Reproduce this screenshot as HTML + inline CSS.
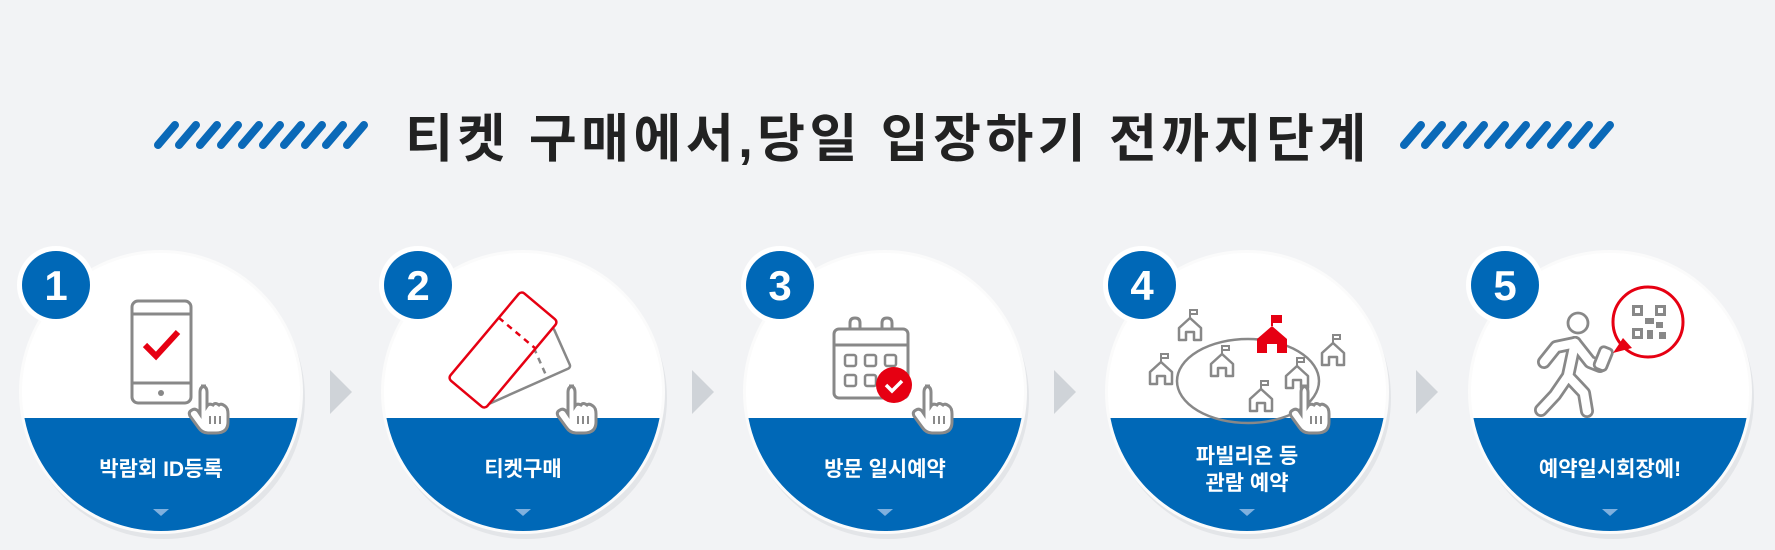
<!DOCTYPE html>
<html><head><meta charset="utf-8"><style>
body{margin:0;background:#f2f3f5;}
svg{display:block}
text{font-family:"Liberation Sans","Noto Sans CJK KR",sans-serif;}
</style></head><body>
<svg width="1775" height="550" viewBox="0 0 1775 550" xmlns="http://www.w3.org/2000/svg">
<defs>
<g id="stripes">
<g stroke="#0a69b8" stroke-width="8" stroke-linecap="round">
<line x1="0" y1="24" x2="17" y2="4"/><line x1="21" y1="24" x2="38" y2="4"/><line x1="42" y1="24" x2="59" y2="4"/><line x1="63" y1="24" x2="80" y2="4"/><line x1="84" y1="24" x2="101" y2="4"/><line x1="105" y1="24" x2="122" y2="4"/><line x1="126" y1="24" x2="143" y2="4"/><line x1="147" y1="24" x2="164" y2="4"/><line x1="168" y1="24" x2="185" y2="4"/><line x1="189" y1="24" x2="206" y2="4"/>
</g></g>
<g id="hand">
<path d="M8 0 q6 0 6 6 v14 q2-3 6-1 q2-3 6 0 q2-2 6 1 q3 2 3 8 v8 q0 11-12 11 h-8 q-6 0-10-6 l-8-11 q-2-4 2-6 q3-2 6 1 l2 3 v-22 q0-6 6-6z" fill="#fff" stroke="#8a8a8a" stroke-width="3"/>
<g stroke="#8a8a8a" stroke-width="2"><line x1="17" y1="30" x2="17" y2="38"/><line x1="22" y1="30" x2="22" y2="38"/><line x1="27" y1="30" x2="27" y2="38"/></g>
</g>
<g id="house">
<path d="M0 22 v-12 l11-10 l11 10 v12 h-7 v-8 h-8 v8z" fill="none" stroke="#888" stroke-width="2.5" stroke-linejoin="round"/>
<path d="M11 0 v-8 h7 v4 h-7" fill="none" stroke="#888" stroke-width="2"/>
</g>
<clipPath id="cc"><circle cx="0" cy="0" r="139"/></clipPath>
<g id="circ">
<circle cx="3" cy="6" r="141" fill="#e3e5e8"/>
<circle cx="0" cy="0" r="142" fill="#fbfbfb"/>
<g clip-path="url(#cc)"><rect x="-150" y="-150" width="300" height="300" fill="#fff"/><rect x="-150" y="26" width="300" height="130" fill="#0068b7"/></g>
<path d="M-8 117 h16 l-8 7z" fill="#7fb0de"/>
</g>
<g id="badge"><circle r="39" fill="#fff"/><circle r="34" fill="#0068b7"/></g>
<path id="arr" d="M0 0 l22 22 l-22 22z" fill="#cfd3d8"/>
</defs>

<use href="#stripes" x="158" y="121"/>
<use href="#stripes" x="1404" y="121"/>
<text x="888" y="157" text-anchor="middle" font-size="52" font-weight="bold" letter-spacing="4.5" fill="#222">티켓 구매에서,당일 입장하기 전까지단계</text>

<use href="#arr" x="330" y="370"/><use href="#arr" x="692" y="370"/><use href="#arr" x="1054" y="370"/><use href="#arr" x="1416" y="370"/>

<!-- 1 -->
<use href="#circ" x="161" y="392"/>
<rect x="132" y="301" width="59" height="102" rx="6" fill="none" stroke="#888" stroke-width="3"/>
<line x1="132" y1="314" x2="191" y2="314" stroke="#888" stroke-width="3"/>
<line x1="132" y1="383" x2="191" y2="383" stroke="#888" stroke-width="3"/>
<circle cx="161" cy="393" r="3" fill="#888"/>
<path d="M145 345 l11 11 l22-24" fill="none" stroke="#e60012" stroke-width="6"/>
<use href="#hand" x="193" y="386"/>
<use href="#badge" x="56" y="285"/>
<text x="56" y="300" text-anchor="middle" font-size="42" font-weight="bold" fill="#fff">1</text>
<text x="161" y="476" text-anchor="middle" font-size="21" font-weight="bold" fill="#fff">박람회 ID등록</text>

<!-- 2 -->
<use href="#circ" x="523" y="392"/>
<g transform="translate(520,366) rotate(-24)"><rect x="-46" y="-22" width="92" height="44" rx="3" fill="#fff" stroke="#888" stroke-width="2.5"/><line x1="20" y1="-22" x2="20" y2="22" stroke="#888" stroke-width="2.5" stroke-dasharray="6 5"/></g>
<g transform="translate(503,350) rotate(-50)"><rect x="-57" y="-24" width="114" height="48" rx="4" fill="#fff" stroke="#e60012" stroke-width="2.5"/><line x1="22" y1="-24" x2="22" y2="24" stroke="#e60012" stroke-width="2.5" stroke-dasharray="6 5"/></g>
<use href="#hand" x="561" y="386"/>
<use href="#badge" x="418" y="285"/>
<text x="418" y="300" text-anchor="middle" font-size="42" font-weight="bold" fill="#fff">2</text>
<text x="523" y="476" text-anchor="middle" font-size="21" font-weight="bold" fill="#fff">티켓구매</text>

<!-- 3 -->
<use href="#circ" x="885" y="392"/>
<rect x="834" y="329" width="74" height="69" rx="5" fill="none" stroke="#888" stroke-width="3"/>
<line x1="834" y1="345" x2="908" y2="345" stroke="#888" stroke-width="3"/>
<path d="M850 329 v-6 q0-5 5-5 q5 0 5 5 v6 M882 329 v-6 q0-5 5-5 q5 0 5 5 v6" fill="none" stroke="#888" stroke-width="3"/>
<g fill="none" stroke="#888" stroke-width="2.5"><rect x="845" y="355" width="11" height="11" rx="2"/><rect x="865" y="355" width="11" height="11" rx="2"/><rect x="885" y="355" width="11" height="11" rx="2"/><rect x="845" y="375" width="11" height="11" rx="2"/><rect x="865" y="375" width="11" height="11" rx="2"/></g>
<circle cx="894" cy="385" r="18" fill="#e60012"/>
<path d="M886 385 l6 6 l10-10" fill="none" stroke="#fff" stroke-width="3.5"/>
<use href="#hand" x="917" y="386"/>
<use href="#badge" x="780" y="285"/>
<text x="780" y="300" text-anchor="middle" font-size="42" font-weight="bold" fill="#fff">3</text>
<text x="885" y="476" text-anchor="middle" font-size="21" font-weight="bold" fill="#fff">방문 일시예약</text>

<!-- 4 -->
<use href="#circ" x="1247" y="392"/>
<ellipse cx="1248" cy="381" rx="71" ry="42" fill="none" stroke="#888" stroke-width="2.5"/>
<use href="#house" x="1179" y="318"/><use href="#house" x="1150" y="362"/><use href="#house" x="1211" y="354"/><use href="#house" x="1250" y="389"/><use href="#house" x="1286" y="366"/><use href="#house" x="1322" y="343"/>
<path d="M1257 353 v-14 l15-13 l15 13 v14 h-10 v-9 h-10 v9z" fill="#e60012"/>
<path d="M1272 326 v-10 h9 v6 h-9" fill="#e60012" stroke="#e60012" stroke-width="2"/>
<use href="#hand" x="1294" y="386"/>
<use href="#badge" x="1142" y="285"/>
<text x="1142" y="300" text-anchor="middle" font-size="42" font-weight="bold" fill="#fff">4</text>
<text x="1247" y="463" text-anchor="middle" font-size="21" font-weight="bold" fill="#fff">파빌리온 등</text>
<text x="1247" y="490" text-anchor="middle" font-size="21" font-weight="bold" fill="#fff">관람 예약</text>

<!-- 5 -->
<use href="#circ" x="1610" y="392"/>
<g fill="none" stroke-linecap="round" stroke-linejoin="round">
<g stroke="#888" stroke-width="14">
<path d="M1575 343 L1568 376 L1555 395 L1541 410"/>
<path d="M1568 376 L1584 393 L1587 411"/>
<path d="M1575 343 L1556 347 L1544 362"/>
<path d="M1575 343 L1590 362 L1600 366"/>
</g>
<g stroke="#fff" stroke-width="8.5">
<path d="M1575 343 L1568 376 L1555 395 L1541 410"/>
<path d="M1568 376 L1584 393 L1587 411"/>
<path d="M1575 343 L1556 347 L1544 362"/>
<path d="M1575 343 L1590 362 L1600 366"/>
</g>
</g>
<circle cx="1578" cy="323" r="10" fill="#fff" stroke="#888" stroke-width="2.8"/>
<rect x="1597" y="347" width="13" height="23" rx="4" transform="rotate(22 1603 358)" fill="#fff" stroke="#888" stroke-width="2.8"/>
<circle cx="1648" cy="322" r="35" fill="#fff" stroke="#e60012" stroke-width="3"/>
<path d="M1623 338 l-10 15 l19-5z" fill="#e60012"/>
<g fill="#888"><rect x="1632" y="305" width="11" height="11"/><rect x="1655" y="305" width="11" height="11"/><rect x="1632" y="328" width="11" height="11"/><rect x="1645" y="318" width="9" height="6"/><rect x="1656" y="322" width="7" height="6"/><rect x="1647" y="330" width="6" height="9"/><rect x="1659" y="332" width="7" height="7"/></g>
<g fill="#fff"><rect x="1635" y="308" width="5" height="5"/><rect x="1658" y="308" width="5" height="5"/><rect x="1635" y="331" width="5" height="5"/></g>
<use href="#badge" x="1505" y="285"/>
<text x="1505" y="300" text-anchor="middle" font-size="42" font-weight="bold" fill="#fff">5</text>
<text x="1610" y="476" text-anchor="middle" font-size="21" font-weight="bold" fill="#fff">예약일시회장에!</text>
</svg>
</body></html>
